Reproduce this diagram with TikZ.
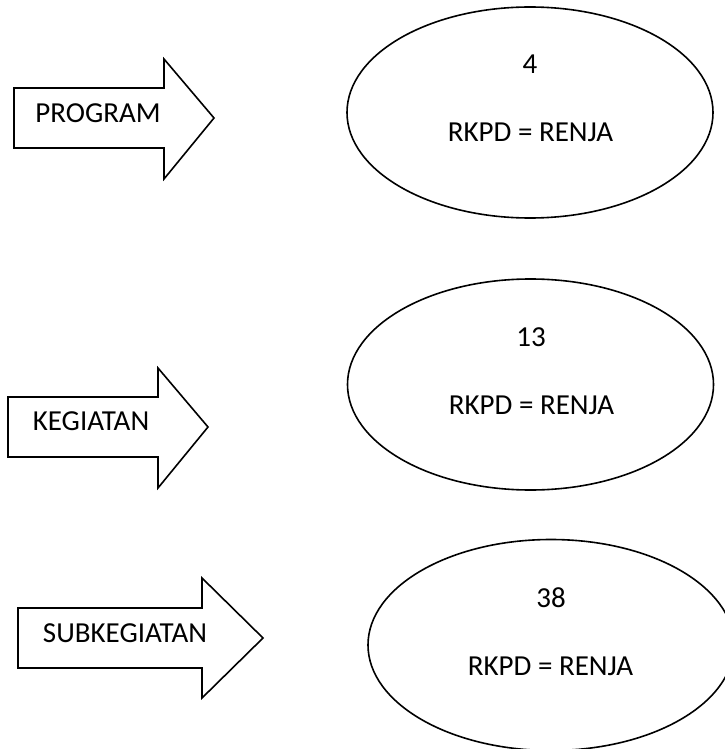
\documentclass[tikz,border=0pt]{standalone}
\usepackage{fontspec}
\setmainfont{Carlito}
\usepackage{tikz}
\usetikzlibrary{shapes.geometric}

\begin{document}
\begin{tikzpicture}[x=1pt, y=-1pt,
  blockarrow/.style={draw, black, line width=1.6pt, line join=miter},
  oval/.style={ellipse, draw, black, line width=1.6pt, minimum width=366pt, minimum height=211pt, inner sep=0pt},
  lbl/.style={anchor=base, font=\fontsize{29}{35}\selectfont, inner sep=0pt}]
\useasboundingbox (0,0) rectangle (724,749);
% arrows on the left
\draw[blockarrow] (14,88) -- (164,88) -- (164,59) -- (214,118) -- (164,179) -- (164,148) -- (14,148) -- cycle;
\node[lbl] (prog) at (98,123) {PROGRAM};
\draw[blockarrow] (8,397) -- (158,397) -- (158,368) -- (208,427) -- (158,488) -- (158,457) -- (8,457) -- cycle;
\node[lbl] (keg) at (91,430) {KEGIATAN};
\draw[blockarrow] (18,608) -- (202,608) -- (202,578) -- (263,638) -- (202,698) -- (202,668) -- (18,668) -- cycle;
\node[lbl] (subkeg) at (125,642) {SUBKEGIATAN};
% ovals on the right
\node[oval] (ovProg) at (530,112.5) {};
\node[lbl] (nProg) at (530,74) {4};
\node[lbl] (rProg) at (530.5,142) {RKPD = RENJA};
\node[oval] (ovKeg) at (530.5,384.5) {};
\node[lbl] (nKeg) at (531,346) {13};
\node[lbl] (rKeg) at (531.5,414) {RKPD = RENJA};
\node[oval] (ovSub) at (551,645) {};
\node[lbl] (nSub) at (551,607) {38};
\node[lbl] (rSub) at (550.5,675) {RKPD = RENJA};
\end{tikzpicture}
\end{document}
